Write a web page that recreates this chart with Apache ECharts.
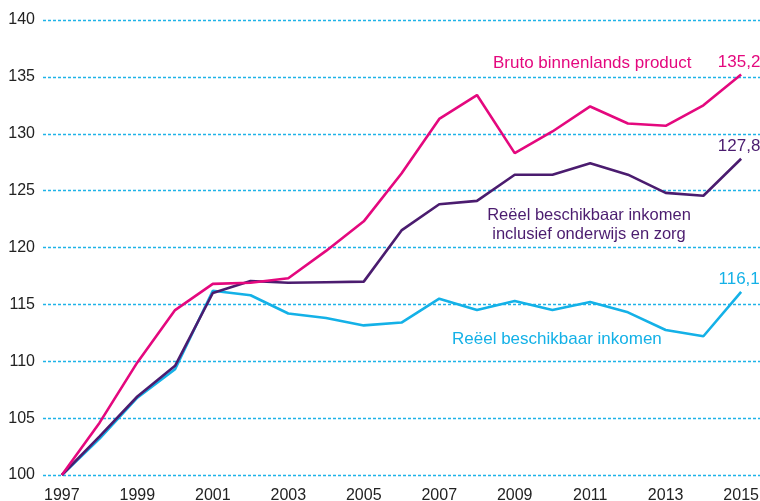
<!DOCTYPE html>
<html><head><meta charset="utf-8">
<script src="https://cdn.jsdelivr.net/npm/echarts@6/dist/echarts.min.js"></script>
<style>html,body{margin:0;padding:0;background:#fff}#c{width:760px;height:501px}</style>
</head><body><div id="c"></div>
<script>
const years = ['1997','1998','1999','2000','2001','2002','2003','2004','2005','2006','2007','2008','2009','2010','2011','2012','2013','2014','2015'];
const bbp = [100,104.6,109.9,114.5,116.8,116.9,117.3,119.7,122.3,126.5,131.3,133.4,128.3,130.2,132.4,130.9,130.7,132.5,135.2];
const inkomenZorg = [100,103.4,106.9,109.6,116.0,117.05,116.9,116.95,117.0,121.5,123.8,124.1,126.4,126.4,127.4,126.4,124.8,124.55,127.8];
const inkomen = [100,103.2,106.8,109.3,116.2,115.8,114.2,113.8,113.15,113.4,115.5,114.5,115.3,114.5,115.2,114.3,112.75,112.2,116.1];
const yTicks = [100,105,110,115,120,125,130,135,140];
const endLabels = ['135,2','127,8','116,1'];

const PINK='#e4087e', PURPLE='#4b1c6f', CYAN='#14b1e7';
const FONT='Liberation Sans';
const chart = echarts.init(document.getElementById('c'));
function mk(name, data, color, lbl, z){
  return {name, type:'line', data: data.map((v,i)=> i===data.length-1 ? {value:v, symbol:'circle', symbolSize:0.01, label:{show:true, formatter:lbl, position:'top', distance:4, offset:[-2,0], color, fontSize:17, fontFamily:FONT}} : v),
    symbol:'circle', symbolSize:0.01, showSymbol:true, z, lineStyle:{color, width:2.6}, itemStyle:{color}, animation:false};
}
chart.setOption({
  animation:false,
  grid:{left:43,right:0,top:20,bottom:26,containLabel:false,outerBoundsMode:'none'},
  xAxis:{type:'category', data:years, boundaryGap:true,
    axisLine:{show:false}, axisTick:{show:false},
    axisLabel:{interval:1, color:'#222', fontSize:16, fontFamily:FONT, margin:13}},
  yAxis:{type:'value', min:yTicks[0], max:yTicks[yTicks.length-1], interval:5,
    axisLine:{show:false}, axisTick:{show:false},
    axisLabel:{color:'#222', fontSize:16, fontFamily:FONT, margin:8},
    splitLine:{lineStyle:{color:'#1fb3e8', width:1.3, type:[3,2]}}},
  series:[
    mk('Reëel beschikbaar inkomen', inkomen, CYAN, endLabels[2], 3),
    mk('Reëel beschikbaar inkomen inclusief onderwijs en zorg', inkomenZorg, PURPLE, endLabels[1], 4),
    mk('Bruto binnenlands product', bbp, PINK, endLabels[0], 5)
  ],
  graphic:[
    {type:'text', x:493, y:63, style:{text:'Bruto binnenlands product', fill:PINK, font:'17px "Liberation Sans"', verticalAlign:'middle'}},
    {type:'text', x:589, y:225, style:{text:'Reëel beschikbaar inkomen\ninclusief onderwijs en zorg', fill:PURPLE, font:'16.5px "Liberation Sans"', align:'center', verticalAlign:'middle', lineHeight:18.5}},
    {type:'text', x:452, y:339, style:{text:'Reëel beschikbaar inkomen', fill:CYAN, font:'17px "Liberation Sans"', verticalAlign:'middle'}}
  ]
});
</script></body></html>
